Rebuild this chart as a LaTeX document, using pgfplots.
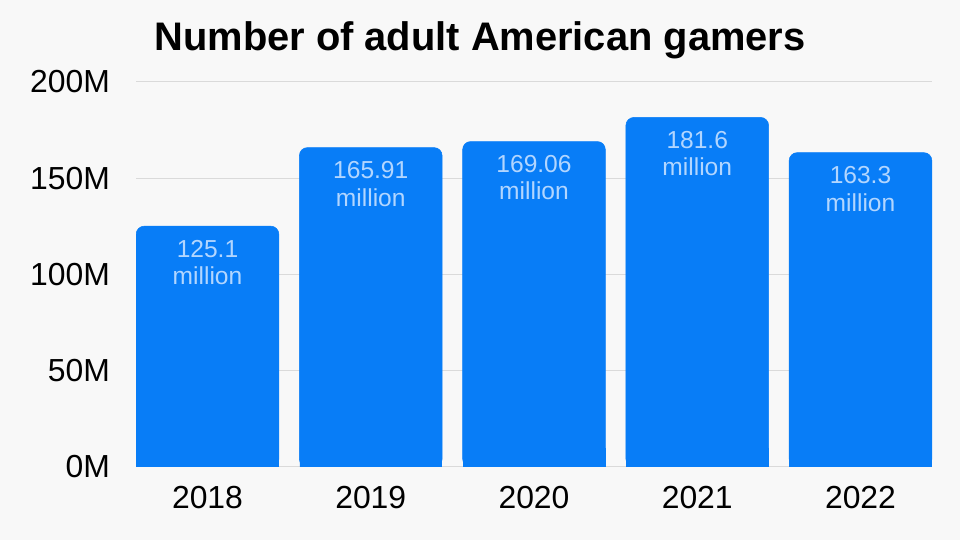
\documentclass[border=0pt]{standalone}
\usepackage{pgfplots}
\usepackage{pgfplotstable}
\pgfplotsset{compat=1.18}
\usepackage{fontspec}
\setmainfont{Liberation Sans}
\definecolor{bg}{HTML}{F8F8F8}
\definecolor{barblue}{HTML}{087DF7}
\definecolor{lbl}{HTML}{B2D6FF}
\definecolor{gridc}{HTML}{DADADA}
\pgfplotstableread{
x y label
0 125.1 125.1
1 165.91 165.91
2 169.06 169.06
3 181.6 181.6
4 163.3 163.3
}\datatable
\begin{document}
\begin{tikzpicture}
\fill[bg] (0,0) rectangle (720bp,405bp);
\node[font=\bfseries\fontsize{30}{33}\selectfont, anchor=center] at (360bp,375bp) {Number of adult American gamers};
\begin{axis}[
  at={(102bp,54.75bp)}, anchor=south west,
  scale only axis, width=597bp, height=288.75bp,
  xmin=-0.438, xmax=4.438, ymin=0, ymax=200,
  ytick={0,50,100,150,200}, yticklabels={0M,50M,100M,150M,200M},
  xtick={0,1,2,3,4}, xticklabels={2018,2019,2020,2021,2022},
  ymajorgrids, grid style={gridc, line width=0.75bp},
  axis line style={draw=none}, major tick style={draw=none},
  tick label style={font=\fontsize{24}{26}\selectfont, text=black},
  yticklabel style={xshift=-16bp},
  xticklabel style={yshift=-11bp},
]
\addplot[ybar, bar width=107bp, bar shift=0pt, fill=barblue, draw=barblue, line width=0.4bp, rounded corners=6bp,
  point meta=explicit symbolic,
  nodes near coords={\pgfplotspointmeta\\million},
  every node near coord/.append style={anchor=north, yshift=-7bp, align=center, text=lbl,
     font=\fontsize{18.5}{20.5}\selectfont}]
  table[x=x, y=y, meta=label] {\datatable};
\addplot[ybar, bar width=106.4bp, bar shift=0pt, fill=barblue, draw=barblue, line width=0.3bp]
  coordinates {(0,10) (1,10) (2,10) (3,10) (4,10)};
\end{axis}
\end{tikzpicture}
\end{document}
